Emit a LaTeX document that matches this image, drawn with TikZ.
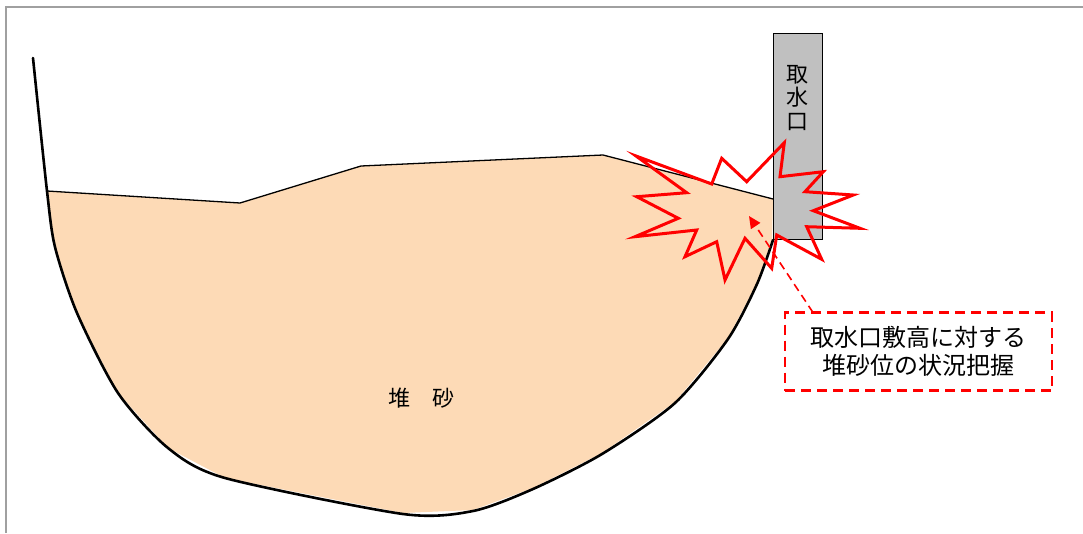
\documentclass[tikz,border=0pt]{standalone}
\usepackage{fontspec}
\newfontfamily\jpfont{Noto Sans CJK JP}
\usetikzlibrary{arrows.meta}
\definecolor{sand}{RGB}{253,218,182}
\definecolor{intakegray}{RGB}{192,192,192}
\definecolor{framegray}{RGB}{160,160,160}
\definecolor{alertred}{RGB}{255,0,0}
\tikzset{
  frameline/.style={draw=framegray, line width=1.5pt},
  surfaceline/.style={draw=black, line width=1.3pt, line join=round},
  bedline/.style={draw=black, line width=2.6pt, line join=round, line cap=round},
  intakebox/.style={draw=black, fill=intakegray, line width=1.2pt},
  burst/.style={draw=alertred, line width=3pt, line join=miter},
  notebox/.style={draw=alertred, line width=2.6pt, dash pattern=on 10pt off 6pt,
    minimum width=267pt, minimum height=78pt, inner sep=0pt},
  pointer/.style={draw=alertred, line width=1.6pt, dash pattern=on 8pt off 5pt,
    -{Triangle[length=12pt,width=11pt]}},
  jptext/.style={font=\jpfont, text=black, align=center}
}
\begin{document}
\begin{tikzpicture}[x=1pt, y=-1pt]
\useasboundingbox (0,0) rectangle (1083,533);

% frame
\draw[frameline] (6,533) -- (6,7) -- (1083,7);

% deposited sediment body
\fill[sand] (47,191) -- (240,203) -- (361,166) -- (603,155) -- (773,199)
  -- (772,240) -- (757,283) -- (728,338) -- (675,402) -- (602,453)
  -- (533,488) -- (473,510) -- (403,513) -- (225,478) -- (168,448)
  -- (118,393) -- (77,313) -- (55,247) -- cycle;

% sediment surface
\draw[surfaceline] (47,191) -- (240,203) -- (361,166) -- (603,155) -- (773,199);

% reservoir bed and bank
\draw[bedline] plot[smooth, tension=0.45] coordinates {
  (33,58) (47,191) (55,247) (77,313) (118,393) (168,448) (225,478)
  (403,514) (473,511) (533,489) (602,454) (675,403) (728,339) (757,284) (773,240)};

% intake structure
\node[intakebox, minimum width=49pt, minimum height=206pt, inner sep=0pt,
  anchor=north west] (intake) at (773,33) {};
\node[jptext, font=\jpfont\fontsize{22pt}{23.5pt}\selectfont] (intakelabel)
  at (797,98) {取\\水\\口};

% sediment label
\node[jptext, font=\jpfont\fontsize{22pt}{26pt}\selectfont] (sandlabel)
  at (421,398) {堆　砂};

% burst marking the intake sill
\draw[burst] (636,156) -- (711.7,184) -- (721.7,158.3) -- (746.7,181.7)
  -- (784.3,142.7) -- (780,176.7) -- (823.3,171.7) -- (805,191.7)
  -- (853.3,195) -- (813.3,210.7) -- (860,228.3) -- (806.7,226.7)
  -- (821.7,259.3) -- (776.7,235) -- (771.7,268.3) -- (745,238.3)
  -- (725,280) -- (716.7,241.7) -- (685,256.7) -- (696.7,230)
  -- (635,236.7) -- (678.3,218.3) -- (636.7,196.7) -- (686.7,192.7) -- cycle;
\coordinate (burstcore) at (749,216);

% note box
\node[notebox, jptext, font=\jpfont\fontsize{24pt}{28pt}\selectfont] (note)
  at (918.5,351.5) {取水口敷高に対する\\堆砂位の状況把握};
\coordinate (notetail) at (813,312.5);
\draw[pointer] (notetail) -- (burstcore);
\end{tikzpicture}
\end{document}
